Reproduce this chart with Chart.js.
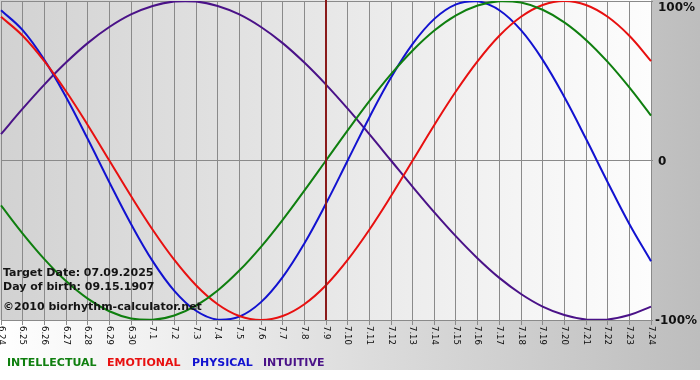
<!DOCTYPE html>
<html>
<head>
<meta charset="utf-8">
<script src="https://cdn.jsdelivr.net/npm/chart.js@4"></script>
<style>
  body { margin: 0; background: #fff; }
  #wrap { position: relative; width: 700px; height: 380px; }
  .info { position: absolute; left: 3px; font: bold 11px "DejaVu Sans", sans-serif; line-height: 13px; color: #141414; white-space: nowrap; }
  .leg { position: absolute; top: 356px; font: bold 11px "DejaVu Sans", sans-serif; line-height: 13px; white-space: nowrap; }
</style>
</head>
<body>
<div id="wrap">
  <canvas id="bioChart" width="700" height="380"></canvas>
  <div class="info" style="top:266px">Target Date: 07.09.2025</div>
  <div class="info" style="top:280px">Day of birth: 09.15.1907</div>
  <div class="info" style="top:300px">©2010 biorhythm-calculator.net</div>
  <span class="leg" style="left:7px;color:#0f7f0f">INTELLECTUAL</span>
  <span class="leg" style="left:107px;color:#e81010">EMOTIONAL</span>
  <span class="leg" style="left:192px;color:#1212d0">PHYSICAL</span>
  <span class="leg" style="left:263px;color:#4a1288">INTUITIVE</span>
</div>
<script>
// Days shown on the x axis
const days = ['6.24', '6.25', '6.26', '6.27', '6.28', '6.29', '6.30',
  '7.1', '7.2', '7.3', '7.4', '7.5', '7.6', '7.7', '7.8', '7.9', '7.10',
  '7.11', '7.12', '7.13', '7.14', '7.15', '7.16', '7.17', '7.18', '7.19',
  '7.20', '7.21', '7.22', '7.23', '7.24'];

// Curve values (-1 .. 1) read per day
const intellectual = [-0.282, -0.458, -0.618, -0.756, -0.866, -0.945, -0.990, -0.999, -0.972, -0.910,
  -0.815, -0.690, -0.541, -0.372, -0.189, 0.000, 0.189, 0.372, 0.541, 0.690, 0.815, 0.910, 0.972,
  0.999, 0.990, 0.945, 0.866, 0.756, 0.618, 0.458, 0.282];
const emotional = [0.901, 0.782, 0.623, 0.434, 0.223, 0.000, -0.223, -0.434, -0.623, -0.782,
  -0.901, -0.975, -1.000, -0.975, -0.901, -0.782, -0.623, -0.434, -0.223, 0.000, 0.223, 0.434,
  0.623, 0.782, 0.901, 0.975, 1.000, 0.975, 0.901, 0.782, 0.623];
const physical = [0.942, 0.817, 0.631, 0.398, 0.136, -0.136, -0.398, -0.631, -0.817, -0.942,
  -0.998, -0.979, -0.888, -0.731, -0.520, -0.270, 0.000, 0.270, 0.520, 0.731, 0.888, 0.979, 0.998,
  0.942, 0.817, 0.631, 0.398, 0.136, -0.136, -0.398, -0.631];
const intuitive = [0.165, 0.325, 0.476, 0.614, 0.736, 0.837, 0.916, 0.969, 0.997, 0.997,
  0.969, 0.916, 0.837, 0.736, 0.614, 0.476, 0.325, 0.165, 0.000, -0.165, -0.325, -0.476, -0.614,
  -0.736, -0.837, -0.916, -0.969, -0.997, -0.997, -0.969, -0.916];

const targetDay = '7.9';
const yTicks = [1, 0, -1];
const yTickLabels = ['100%', '0', '-100%'];

// Backgrounds, target line and the rotated / right-hand labels
const decorPlugin = {
  id: 'decor',
  beforeDraw(chart) {
    const ctx = chart.ctx;
    const a = chart.chartArea;
    ctx.save();
    let g = ctx.createLinearGradient(0, 0, chart.width, 0);
    g.addColorStop(0, '#ffffff');
    g.addColorStop(1, '#bdbdbd');
    ctx.fillStyle = g;
    ctx.fillRect(0, 0, chart.width, 370);
    g = ctx.createLinearGradient(a.left, 0, a.right, 0);
    g.addColorStop(0, '#d2d2d2');
    g.addColorStop(1, '#fdfdfd');
    ctx.fillStyle = g;
    ctx.fillRect(a.left - 1, a.top - 1, a.right - a.left + 1, a.bottom - a.top + 1);
    ctx.restore();
  },
  afterDatasetsDraw(chart) {
    const ctx = chart.ctx;
    const a = chart.chartArea;
    const x = Math.round(chart.scales.x.getPixelForValue(days.indexOf(targetDay)));
    ctx.save();
    ctx.strokeStyle = '#8a1a1a';
    ctx.lineWidth = 2;
    ctx.beginPath();
    ctx.moveTo(x, a.top - 1);
    ctx.lineTo(x, a.bottom);
    ctx.stroke();
    ctx.restore();
  },
  afterDraw(chart) {
    const ctx = chart.ctx;
    const a = chart.chartArea;
    const xs = chart.scales.x;
    const ys = chart.scales.y;
    ctx.save();
    ctx.fillStyle = '#0a0a0a';
    ctx.font = '8.5px "DejaVu Sans", sans-serif';
    ctx.textAlign = 'left';
    ctx.textBaseline = 'middle';
    days.forEach((d, i) => {
      ctx.save();
      ctx.translate(xs.getPixelForTick(i), a.bottom + 6);
      ctx.rotate(Math.PI / 2);
      ctx.fillText(d, 0, 0);
      ctx.restore();
    });
    ctx.font = 'bold 12px "DejaVu Sans", sans-serif';
    ctx.fillStyle = '#111';
    yTicks.forEach((v, i) => {
      let y = ys.getPixelForValue(v) + 1;
      if (y < 8) y = 8;
      ctx.fillText(yTickLabels[i], a.right + (v === -1 ? 4 : 7), y);
    });
    ctx.restore();
  }
};

const ctx = document.getElementById('bioChart').getContext('2d');
new Chart(ctx, {
  type: 'line',
  data: {
    labels: days,
    datasets: [
      { label: 'INTELLECTUAL', data: intellectual, borderColor: '#0f7f0f' },
      { label: 'EMOTIONAL', data: emotional, borderColor: '#e81010' },
      { label: 'PHYSICAL', data: physical, borderColor: '#1212d0' },
      { label: 'INTUITIVE', data: intuitive, borderColor: '#4a1288' }
    ]
  },
  options: {
    responsive: false,
    animation: false,
    layout: { padding: { left: 1, top: 1, right: 0, bottom: 0 } },
    elements: {
      point: { radius: 0 },
      line: { borderWidth: 2, tension: 0.4, fill: false }
    },
    plugins: { legend: { display: false }, tooltip: { enabled: false } },
    scales: {
      x: {
        offset: false,
        afterFit(scale) { scale.height = 60; },
        ticks: { display: false },
        grid: { color: '#8a8a8a', lineWidth: 1, tickLength: 5 },
        border: { color: '#8a8a8a' }
      },
      y: {
        position: 'right',
        min: -1,
        max: 1,
        afterFit(scale) { scale.width = 49; },
        ticks: { display: false, stepSize: 1 },
        grid: { color: '#8a8a8a', lineWidth: 1, tickLength: 2 },
        border: { display: false }
      }
    }
  },
  plugins: [decorPlugin]
});
</script>
</body>
</html>
